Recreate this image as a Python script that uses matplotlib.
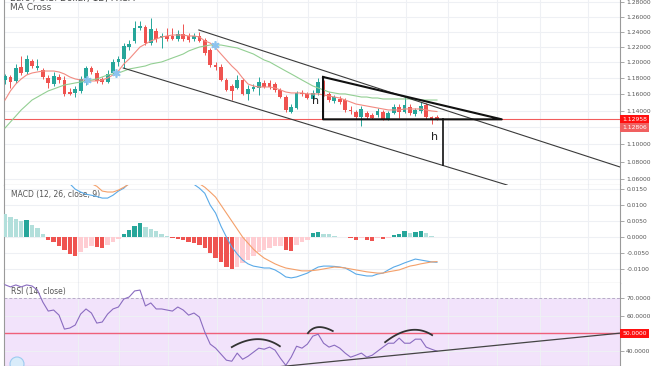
import numpy as np
import matplotlib.pyplot as plt
from matplotlib.ticker import FixedLocator, NullLocator
from matplotlib.patches import Circle
from matplotlib.transforms import IdentityTransform

# ---- daily EUR/USD candles ----
opens = [1.1778, 1.1816, 1.1766, 1.1942, 1.1879, 1.2018, 1.1929, 1.1904, 1.1803, 1.1728,
         1.1816, 1.1778, 1.1629, 1.1617, 1.1642, 1.1741, 1.1929, 1.1866, 1.1791, 1.1753,
         1.1866, 1.2006, 1.2044, 1.2198, 1.2277, 1.2447, 1.2461, 1.2250, 1.2408, 1.2316,
         1.2342, 1.2342, 1.2303, 1.2368, 1.2342, 1.2303, 1.2342, 1.2290, 1.2160, 1.1967,
         1.1942, 1.1778, 1.1704, 1.1679, 1.1778, 1.1605, 1.1666, 1.1679, 1.1741, 1.1741,
         1.1728, 1.1654, 1.1567, 1.1385, 1.1433, 1.1617, 1.1605, 1.1543, 1.1617, 1.1753,
         1.1605, 1.1518, 1.1543, 1.1530, 1.1409, 1.1385, 1.1324, 1.1372, 1.1348, 1.1348,
         1.1385, 1.1300, 1.1372, 1.1445, 1.1385, 1.1445, 1.1360, 1.1397, 1.1469, 1.1324,
         1.1324]
closes = [1.1828, 1.1753, 1.1929, 1.1866, 1.2044, 1.1955, 1.1955, 1.1816, 1.1741, 1.1828,
          1.1778, 1.1605, 1.1605, 1.1666, 1.1791, 1.1929, 1.1879, 1.1766, 1.1753, 1.1854,
          1.2006, 1.2044, 1.2211, 1.2237, 1.2447, 1.2474, 1.2250, 1.2434, 1.2303, 1.2342,
          1.2303, 1.2303, 1.2368, 1.2303, 1.2290, 1.2342, 1.2277, 1.2121, 1.1967, 1.1942,
          1.1778, 1.1654, 1.1642, 1.1778, 1.1605, 1.1666, 1.1691, 1.1753, 1.1691, 1.1691,
          1.1654, 1.1567, 1.1409, 1.1445, 1.1617, 1.1605, 1.1555, 1.1617, 1.1753, 1.1592,
          1.1530, 1.1567, 1.1506, 1.1409, 1.1397, 1.1324, 1.1421, 1.1324, 1.1312, 1.1397,
          1.1300, 1.1372, 1.1445, 1.1385, 1.1469, 1.1372, 1.1409, 1.1457, 1.1324, 1.1300,
          1.1296]
highs = [1.1854, 1.1841, 1.1980, 1.2082, 1.2095, 1.2044, 1.2044, 1.1929, 1.1841, 1.1879,
         1.1854, 1.1828, 1.1679, 1.1704, 1.1828, 1.1955, 1.1955, 1.1904, 1.1816, 1.1904,
         1.2044, 1.2082, 1.2250, 1.2290, 1.2540, 1.2540, 1.2487, 1.2580, 1.2447, 1.2382,
         1.2447, 1.2447, 1.2421, 1.2500, 1.2382, 1.2382, 1.2395, 1.2316, 1.2186, 1.2006,
         1.1980, 1.1803, 1.1728, 1.1841, 1.1803, 1.1716, 1.1728, 1.1816, 1.1778, 1.1778,
         1.1753, 1.1679, 1.1592, 1.1481, 1.1642, 1.1654, 1.1629, 1.1654, 1.1803, 1.1778,
         1.1629, 1.1592, 1.1580, 1.1555, 1.1457, 1.1409, 1.1457, 1.1397, 1.1372, 1.1433,
         1.1409, 1.1397, 1.1481, 1.1481, 1.1567, 1.1481, 1.1433, 1.1506, 1.1494, 1.1336,
         1.1348]
lows = [1.1728, 1.1679, 1.1741, 1.1841, 1.1854, 1.1929, 1.1904, 1.1791, 1.1679, 1.1704,
        1.1741, 1.1580, 1.1592, 1.1567, 1.1617, 1.1716, 1.1854, 1.1741, 1.1728, 1.1741,
        1.1841, 1.1955, 1.1929, 1.2160, 1.2250, 1.2421, 1.2224, 1.2224, 1.2264, 1.2186,
        1.2277, 1.2290, 1.2277, 1.2277, 1.2264, 1.2277, 1.2264, 1.2095, 1.1942, 1.1904,
        1.1766, 1.1642, 1.1530, 1.1666, 1.1592, 1.1530, 1.1642, 1.1592, 1.1679, 1.1666,
        1.1629, 1.1555, 1.1385, 1.1372, 1.1421, 1.1580, 1.1543, 1.1530, 1.1592, 1.1580,
        1.1506, 1.1494, 1.1481, 1.1385, 1.1360, 1.1300, 1.1216, 1.1300, 1.1300, 1.1324,
        1.1288, 1.1288, 1.1360, 1.1312, 1.1372, 1.1348, 1.1336, 1.1372, 1.1300, 1.1240,
        1.1288]

ma_fast = [1.1530, 1.1642, 1.1728, 1.1791, 1.1841, 1.1866, 1.1879, 1.1891, 1.1891, 1.1891,
           1.1879, 1.1854, 1.1816, 1.1791, 1.1778, 1.1778, 1.1766, 1.1766, 1.1778, 1.1803,
           1.1841, 1.1891, 1.1980, 1.2044, 1.2121, 1.2198, 1.2237, 1.2277, 1.2303, 1.2329,
           1.2342, 1.2355, 1.2355, 1.2355, 1.2342, 1.2342, 1.2329, 1.2277, 1.2250, 1.2186,
           1.2108, 1.2031, 1.1955, 1.1891, 1.1803, 1.1728, 1.1704, 1.1691, 1.1691, 1.1691,
           1.1679, 1.1654, 1.1629, 1.1617, 1.1617, 1.1617, 1.1605, 1.1605, 1.1605, 1.1592,
           1.1580, 1.1567, 1.1555, 1.1530, 1.1506, 1.1481, 1.1469, 1.1457, 1.1445, 1.1433,
           1.1421, 1.1409, 1.1409, 1.1409, 1.1421, 1.1421, 1.1421, 1.1421, 1.1409, 1.1397,
           1.1390]
ma_slow = [1.1192, 1.1264, 1.1336, 1.1409, 1.1469, 1.1530, 1.1567, 1.1605, 1.1642, 1.1666,
           1.1691, 1.1716, 1.1728, 1.1741, 1.1753, 1.1766, 1.1778, 1.1791, 1.1816, 1.1841,
           1.1854, 1.1866, 1.1891, 1.1917, 1.1929, 1.1942, 1.1955, 1.1980, 1.1993, 1.2006,
           1.2031, 1.2057, 1.2082, 1.2108, 1.2147, 1.2173, 1.2198, 1.2211, 1.2224, 1.2224,
           1.2224, 1.2211, 1.2198, 1.2186, 1.2160, 1.2134, 1.2108, 1.2069, 1.2031, 1.2006,
           1.1967, 1.1929, 1.1891, 1.1854, 1.1816, 1.1778, 1.1741, 1.1704, 1.1679, 1.1654,
           1.1629, 1.1617, 1.1605, 1.1605, 1.1592, 1.1580, 1.1567, 1.1567, 1.1555, 1.1555,
           1.1543, 1.1543, 1.1543, 1.1543, 1.1543, 1.1543, 1.1530, 1.1530, 1.1530, 1.1530,
           1.1530]
cross_x = [15.2, 20.6, 38.9]
cross_y = [1.1772, 1.1860, 1.2224]

last_price = 1.12958
prev_price = 1.12806

# drawn trend lines: (bar index, price)
channel_upper = [(35.9, 1.2421), (113.9, 1.0738)]
channel_lower = [(21.9, 1.1929), (93.0, 1.0534)]
triangle = [(58.9, 1.1816), (58.9, 1.12958), (92.0, 1.12958), (58.9, 1.1816)]
target_line = [(81.05, 1.12958), (81.05, 1.0761)]
h_labels = [(57.6, 1.1518), (79.6, 1.1086)]

# ---- MACD (12, 26, close, 9) ----
macd_hist = [0.0072, 0.0063, 0.0059, 0.0051, 0.0054, 0.0038, 0.0028, 0.0009, -0.0009, -0.0016,
             -0.0028, -0.0041, -0.0053, -0.0059, -0.0047, -0.0034, -0.0028, -0.0030, -0.0034, -0.0025,
             -0.0016, -0.0006, 0.0009, 0.0022, 0.0034, 0.0044, 0.0031, 0.0025, 0.0019, 0.0009,
             0.0003, -0.0003, -0.0006, -0.0009, -0.0016, -0.0019, -0.0025, -0.0034, -0.0050, -0.0066,
             -0.0078, -0.0094, -0.0100, -0.0094, -0.0081, -0.0072, -0.0059, -0.0047, -0.0041, -0.0034,
             -0.0028, -0.0026, -0.0041, -0.0042, -0.0025, -0.0013, -0.0009, 0.0013, 0.0016, 0.0010,
             0.0009, 0.0004, 0.0002, 0.0001, -0.0003, -0.0009, -0.0003, -0.0009, -0.0010, -0.0003,
             -0.0004, -0.0001, 0.0006, 0.0009, 0.0019, 0.0013, 0.0016, 0.0019, 0.0013, 0.0003,
             0.0001]
macd_line = [0.0225, 0.0222, 0.0218, 0.0214, 0.0210, 0.0205, 0.0200, 0.0195, 0.0190, 0.0185,
             0.0180, 0.0174, 0.0168, 0.0151, 0.0142, 0.0135, 0.0132, 0.0128, 0.0123, 0.0123,
             0.0132, 0.0145, 0.0154, 0.0170, 0.0185, 0.0198, 0.0208, 0.0214, 0.0216, 0.0215,
             0.0212, 0.0206, 0.0198, 0.0188, 0.0176, 0.0166, 0.0154, 0.0138, 0.0101, 0.0076,
             0.0035, 0.0001, -0.0030, -0.0052, -0.0071, -0.0083, -0.0090, -0.0093, -0.0096, -0.0096,
             -0.0102, -0.0112, -0.0124, -0.0127, -0.0124, -0.0118, -0.0112, -0.0102, -0.0093, -0.0090,
             -0.0090, -0.0091, -0.0093, -0.0096, -0.0105, -0.0115, -0.0118, -0.0121, -0.0121, -0.0115,
             -0.0112, -0.0102, -0.0093, -0.0087, -0.0080, -0.0074, -0.0068, -0.0071, -0.0074, -0.0077,
             -0.0078]
signal_line = [0.0215, 0.0213, 0.0211, 0.0209, 0.0207, 0.0205, 0.0202, 0.0199, 0.0196, 0.0193,
               0.0190, 0.0187, 0.0184, 0.0180, 0.0176, 0.0172, 0.0168, 0.0160, 0.0145, 0.0142,
               0.0142, 0.0148, 0.0157, 0.0167, 0.0176, 0.0185, 0.0192, 0.0197, 0.0200, 0.0202,
               0.0202, 0.0200, 0.0196, 0.0190, 0.0183, 0.0176, 0.0168, 0.0157, 0.0142, 0.0126,
               0.0101, 0.0076, 0.0051, 0.0026, 0.0001, -0.0018, -0.0037, -0.0052, -0.0065, -0.0074,
               -0.0083, -0.0090, -0.0096, -0.0099, -0.0102, -0.0105, -0.0105, -0.0104, -0.0102, -0.0099,
               -0.0096, -0.0093, -0.0094, -0.0096, -0.0099, -0.0102, -0.0105, -0.0108, -0.0110, -0.0112,
               -0.0112, -0.0108, -0.0105, -0.0102, -0.0096, -0.0090, -0.0087, -0.0083, -0.0080, -0.0077,
               -0.0076]
macd_ticks = [0.015, 0.010, 0.005, 0.0, -0.005, -0.010]
macd_labels = ["0.0150", "0.0100", "0.0050", "0.0000", "-0.0050", "-0.0100"]

# ---- RSI (14, close) ----
rsi = [77.5, 76.3, 77.4, 76.3, 77.4, 76.8, 74.5, 67.7, 62.6, 63.2,
       60.3, 52.4, 53.0, 54.7, 60.9, 63.8, 61.5, 55.8, 56.4, 60.9,
       63.8, 64.9, 69.4, 70.6, 74.0, 74.5, 65.5, 67.2, 63.8, 63.8,
       63.2, 62.6, 64.9, 63.2, 60.3, 61.5, 59.2, 50.7, 43.9, 41.6,
       38.2, 34.8, 34.2, 38.8, 35.3, 37.0, 39.3, 41.6, 41.0, 42.2,
       40.5, 35.9, 31.9, 36.5, 42.7, 41.6, 43.9, 48.4, 49.5, 44.4,
       42.2, 43.3, 41.6, 38.8, 36.5, 37.6, 38.8, 36.5, 37.6, 39.9,
       42.2, 44.4, 44.4, 47.3, 44.4, 44.4, 46.7, 46.7, 42.2, 41.0,
       39.9]
rsi_arcs = [[(42.0, 42.2), (46.7, 46.7), (50.9, 42.7)],
            [(56.1, 50.1), (58.0, 53.5), (60.7, 51.3)],
            [(70.4, 45.0), (75.0, 51.8), (79.1, 49.0)]]
rsi_trend = [(50.5, 31.0), (113.9, 50.1)]

month_grid = [13.5, 21.1, 30.2, 39.3, 47.6, 56.1, 65.0, 74.3, 82.0, 91.1, 99.1, 108.0]
price_ticks = [1.06, 1.08, 1.10, 1.12, 1.14, 1.16, 1.18, 1.20, 1.22, 1.24, 1.26, 1.28]

UP, DOWN = "#26a69a", "#ef5350"
GRID = "#eef0f4"
SPINE = "#9a9a9a"
TXT = "#555555"
LBL = 4.3

fig = plt.figure(figsize=(6.54, 3.66), dpi=100)
L, W = 4 / 654, 616 / 654
ax1 = fig.add_axes([L, 1 - 185 / 366, W, 185 / 366])
ax2 = fig.add_axes([L, 1 - 283 / 366, W, 98 / 366])
ax3 = fig.add_axes([L, 0, W, 83 / 366])

x = np.arange(len(opens))
for ax in (ax1, ax2, ax3):
    ax.set_xlim(-0.19, 113.9)
    ax.set_xticks(month_grid)
    ax.tick_params(axis="x", length=0, labelbottom=False)
    ax.yaxis.tick_right()
    ax.tick_params(axis="y", length=3, width=0.6, color=SPINE, labelsize=LBL,
                   labelcolor=TXT, pad=1.5)
    ax.grid(True, color=GRID, lw=0.8)
    ax.set_axisbelow(True)
    ax.spines["top"].set_visible(False)
    for s in ("left", "right", "bottom"):
        ax.spines[s].set_color(SPINE)
        ax.spines[s].set_linewidth(0.8)
ax1.spines["bottom"].set_color("#888888")
ax2.spines["bottom"].set_color("#888888")

# ---- main panel ----
ax1.set_yscale("log")
ax1.set_ylim(1.05345, 1.28231)
ax1.yaxis.set_major_locator(FixedLocator(price_ticks))
ax1.yaxis.set_minor_locator(NullLocator())
ax1.set_yticklabels(["" if abs(p - 1.12) < 1e-9 else f"{p:.5f}" for p in price_ticks])

colors = [UP if c >= o else DOWN for o, c in zip(opens, closes)]
ax1.vlines(x, lows, highs, colors=colors, lw=0.7, zorder=3)
body_lo = np.minimum(opens, closes)
body_h = np.maximum(np.abs(np.array(closes) - np.array(opens)), 0.0006)
ax1.bar(x, body_h, bottom=body_lo, width=0.7, color=colors, lw=0, zorder=4)

ax1.plot(x, ma_fast, color="#f28b82", lw=0.8, zorder=5)
ax1.plot(x, ma_slow, color="#93cf93", lw=0.8, zorder=5)
ax1.plot(cross_x, cross_y, ls="none", marker=(6, 2, 0), ms=6, mec="#8cc3ee", mew=1.2, zorder=6)

ax1.axhline(last_price, color="#f25c5c", lw=0.8, zorder=2)

for seg in (channel_upper, channel_lower):
    ax1.plot([p[0] for p in seg], [p[1] for p in seg], color="#3a3a3a", lw=0.8, zorder=6)
ax1.plot([p[0] for p in triangle], [p[1] for p in triangle], color="#111111", lw=1.5, zorder=7)
ax1.plot([p[0] for p in target_line], [p[1] for p in target_line], color="#111111", lw=1.2, zorder=7)
for hx, hy in h_labels:
    ax1.text(hx, hy, "h", fontsize=8, color="#222222", ha="center", va="center", zorder=8)

ytr = ax1.get_yaxis_transform()
ax1.text(1.004, last_price, f"{last_price:.5f}", transform=ytr, fontsize=LBL, color="white",
         va="center", ha="left", clip_on=False, zorder=10,
         bbox=dict(boxstyle="square,pad=0.35", fc="#ff1010", ec="none"))
ax1.annotate(f"{prev_price:.5f}", xy=(1.004, prev_price), xycoords=ytr,
             xytext=(0, -5), textcoords="offset points", fontsize=LBL, color="white",
             va="center", ha="left", annotation_clip=False, zorder=10,
             bbox=dict(boxstyle="square,pad=0.35", fc="#f06060", ec="none"))

fig.text(10 / 654, 1 + 2 / 366, "Euro / U.S. Dollar, 1D, FXCM", fontsize=6.5, color="#444444",
         va="center", ha="left")
fig.text(10 / 654, 1 - 8 / 366, "MA Cross", fontsize=6.5, color="#555555", va="center", ha="left")

# ---- MACD panel ----
ax2.set_ylim(-0.0143, 0.0164)
ax2.set_yticks(macd_ticks)
ax2.set_yticklabels(macd_labels)
hcols = []
prev = None
for h in macd_hist:
    rising = prev is None or h >= prev
    if h >= 0:
        hcols.append("#26a69a" if (prev is not None and rising) else "#b2dfdb")
    else:
        hcols.append("#ef5350" if not rising else "#ffcdd2")
    prev = h
ax2.bar(x, macd_hist, width=0.82, color=hcols, lw=0, zorder=3)
ax2.plot(x, macd_line, color="#5aaae8", lw=0.8, zorder=4)
ax2.plot(x, signal_line, color="#f4a06a", lw=0.8, zorder=4)
ax2.text(0.012, 0.9, "MACD (12, 26, close, 9)", transform=ax2.transAxes, fontsize=5.5,
         color="#555555", va="center", ha="left")

# ---- RSI panel ----
ax3.set_ylim(31.5, 78.5)
ax3.set_yticks([70, 60, 50, 40])
ax3.set_yticklabels(["70.0000", "60.0000", "", "40.0000"])
ax3.axhspan(30, 70, color="#f2e3fb", lw=0, zorder=0)
ax3.axhline(70, color="#b9a9c9", lw=0.7, ls=(0, (3, 2)), zorder=1)
ax3.axhline(50, color="#f0607a", lw=1.0, zorder=2)
ax3.plot(x, rsi, color="#8a6cc0", lw=0.8, zorder=4)
t = np.linspace(0, 1, 40)
for p0, pk, p2 in rsi_arcs:
    p0, pk, p2 = np.array(p0), np.array(pk), np.array(p2)
    c = 2 * pk - (p0 + p2) / 2
    pts = np.outer((1 - t) ** 2, p0) + np.outer(2 * (1 - t) * t, c) + np.outer(t ** 2, p2)
    ax3.plot(pts[:, 0], pts[:, 1], color="#333333", lw=1.3, zorder=5)
ax3.plot([p[0] for p in rsi_trend], [p[1] for p in rsi_trend], color="#444444", lw=0.9, zorder=5)
ax3.text(1.004, 50, "50.0000", transform=ax3.get_yaxis_transform(), fontsize=LBL, color="white",
         va="center", ha="left", clip_on=False, zorder=10,
         bbox=dict(boxstyle="square,pad=0.35", fc="#ff1010", ec="none"))
ax3.text(0.012, 0.9, "RSI (14, close)", transform=ax3.transAxes, fontsize=5.5,
         color="#555555", va="center", ha="left")

fig.add_artist(Circle((17, 2), 7, transform=IdentityTransform(), fc="#d9ecfa", ec="#9ccbf0", lw=0.8))

fig.savefig("out.png", dpi=100)
